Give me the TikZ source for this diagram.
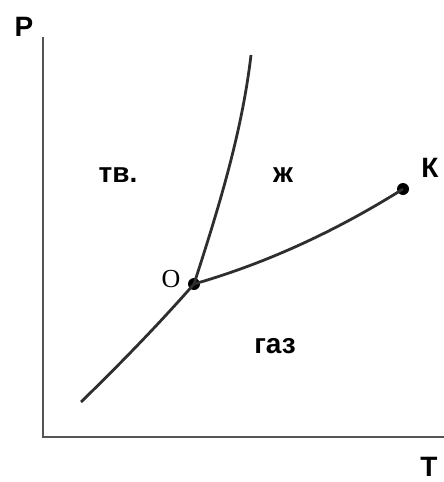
\documentclass[tikz,border=0pt]{standalone}
\usepackage{fontspec}
\setmainfont{Liberation Sans}
\newfontfamily\pointfont{Liberation Serif}
\usepackage{tikz}
\usetikzlibrary{positioning}
\definecolor{PhaseInk}{HTML}{2E2E2E}
\definecolor{PhaseAxis}{HTML}{555555}

\begin{document}
\begin{tikzpicture}[x=1pt, y=-1pt,
  lbl/.style={font=\bfseries\fontsize{28}{28}\selectfont, anchor=base, inner sep=0pt},
  axlbl/.style={font=\bfseries\fontsize{28}{28}\selectfont, anchor=base, inner sep=0pt},
  ax/.style={PhaseAxis, line width=2.8pt},
  crv/.style={PhaseInk, line width=2.8pt},
  dot/.style={circle, fill=black, inner sep=0pt, minimum size=12pt}]
\useasboundingbox (0,0) rectangle (444,482);
%% axes
\coordinate (origin) at (43,437);
\coordinate (ptop) at (43,37);
\coordinate (tend) at (444,437);
\draw[ax] (ptop) -- (origin) -- (tend);
\node[axlbl] (plbl) at (24,36) {P};
\node[axlbl] (tlbl) at (429,476) {T};
%% triple and critical points
\node[dot] (O) at (194,284) {};
\node[dot] (K) at (403,189) {};
\coordinate (sub) at (81,402);
\coordinate (melt) at (251,55);
%% phase boundaries
\draw[crv] (sub) .. controls (120,364) and (158,325) .. (O.center);
\draw[crv] (O.center) .. controls (219,207) and (242,132) .. (melt);
\draw[crv] (O.center) .. controls (267,263) and (336,231) .. (K.center);
%% region and point labels
\node[lbl] (solid) at (118,182) {тв.};
\node[lbl] (liquid) at (283,182) {ж};
\node[lbl] (gas) at (275,353) {газ};
\node[lbl] (klbl) at (430,177) {К};
\node[anchor=base, inner sep=0pt, font=\pointfont\fontsize{26}{26}\selectfont] (olbl) at (171,287) {О};
\end{tikzpicture}
\end{document}
